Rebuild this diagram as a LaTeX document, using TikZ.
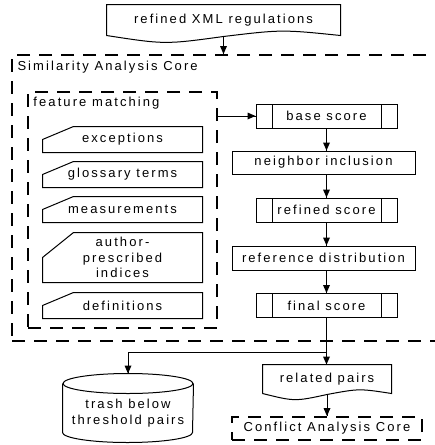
\documentclass[tikz,border=0pt]{standalone}
\usepackage{fontspec}
\usetikzlibrary{calc}
\newfontfamily\diafont{Liberation Sans}[LetterSpace=16]
\begin{document}
\begin{tikzpicture}[x=1pt,y=1pt,line width=1pt]
    \tikzstyle{every node}+=[inner sep=0pt, font=\diafont\fontsize{13}{15.5}\selectfont]
    \tikzstyle{dashbox}=[draw, line width=1.9pt, dash pattern=on 13pt off 9pt]
    \tikzstyle{procbox}=[draw, minimum width=183pt, minimum height=23pt]
    \tikzstyle{subproc}=[draw, minimum width=141pt, minimum height=24pt,
      path picture={\draw ([xshift=16pt]path picture bounding box.north west) -- ([xshift=16pt]path picture bounding box.south west);
                    \draw ([xshift=-16pt]path picture bounding box.north east) -- ([xshift=-16pt]path picture bounding box.south east);}]
    \tikzstyle{manin}=[minimum width=159pt, minimum height=25pt, align=center]
    \useasboundingbox (0,0) rectangle (435,-445);
    \node [minimum width=233pt, minimum height=30pt] (xml) at (223.5,-20) {refined XML regulations};
    \draw [black] (xml.south west) -- (xml.north west) -- (xml.north east) -- (xml.south east)
      .. controls ($(xml.south east)!0.5!(xml.south)+(0,6)$) .. ($(xml.south)+(0,-1)$)
      .. controls ($(xml.south west)!0.5!(xml.south)+(0,-9)$) .. (xml.south west);
    \node [dashbox, minimum width=438pt, minimum height=286pt] (simcore) at (231,-198) {};
    \node [anchor=west] (simtitle) at (17,-67) {Similarity Analysis Core};
    \node [dashbox, minimum width=189pt, minimum height=236pt] (featbox) at (122.5,-210) {};
    \node [anchor=west] (feattitle) at (33,-103) {feature matching};
    \node [manin] (exc) at (122.5,-139.5) {exceptions};
    \draw [black] (exc.south west) -- (exc.west) -- ([xshift=31pt]exc.north west) -- (exc.north east) -- (exc.south east) -- cycle;
    \node [manin] (gloss) at (122.5,-174.5) {glossary terms};
    \draw [black] (gloss.south west) -- (gloss.west) -- ([xshift=31pt]gloss.north west) -- (gloss.north east) -- (gloss.south east) -- cycle;
    \node [manin] (meas) at (122.5,-209.5) {measurements};
    \draw [black] (meas.south west) -- (meas.west) -- ([xshift=31pt]meas.north west) -- (meas.north east) -- (meas.south east) -- cycle;
    \node [manin, minimum height=49pt] (auth) at (122.5,-257.5) {author-\\prescribed\\indices};
    \draw [black] (auth.south west) -- (auth.west) -- ([xshift=31pt]auth.north west) -- (auth.north east) -- (auth.south east) -- cycle;
    \node [manin] (defs) at (122.5,-305.5) {definitions};
    \draw [black] (defs.south west) -- (defs.west) -- ([xshift=31pt]defs.north west) -- (defs.north east) -- (defs.south east) -- cycle;
    \node [subproc] (base) at (326.5,-116) {base score};
    \node [procbox] (neigh) at (323.5,-162.5) {neighbor inclusion};
    \node [subproc] (refined) at (326.5,-210) {refined score};
    \node [procbox, minimum height=24pt] (refdist) at (323.5,-258) {reference distribution};
    \node [subproc] (final) at (326.5,-305.5) {final score};
    \node [minimum width=130pt, minimum height=38pt, align=center] (trash) at (128,-413) {trash below\\threshold pairs};
    \draw [black] ([yshift=10pt]trash.north west) -- (trash.south west) arc [start angle=180, end angle=360, x radius=65, y radius=10] -- ([yshift=10pt]trash.north east);
    \draw [black] ([yshift=10pt]trash.north) ellipse [x radius=65, y radius=10];
    \node [minimum width=128pt, minimum height=28pt] (related) at (327,-379) {related pairs};
    \draw [black] (related.south west) -- (related.north west) -- (related.north east) -- (related.south east)
      .. controls ($(related.south east)!0.5!(related.south)+(0,5)$) .. ($(related.south)+(0,-1)$)
      .. controls ($(related.south west)!0.5!(related.south)+(0,-8)$) .. (related.south west);
    \node [dashbox, minimum width=190pt, minimum height=23pt] (conflict) at (327,-428.5) {Conflict Analysis Core};
    \coordinate (split) at ($(final.south)+(0,-34)$);
    \draw [black] ($(xml.south)+(0,-1)$) -- (xml.south |- simcore.north);
    \fill [black] (xml.south |- simcore.north) -- ++(-3.5,8) -- ++(7,0);
    \draw [black] (featbox.east |- base.west) -- (base.west);
    \fill [black] (base.west) -- ++(-8,3.5) -- ++(0,-7);
    \draw [black] (base.south) -- (base.south |- neigh.north);
    \fill [black] (base.south |- neigh.north) -- ++(-3.5,8) -- ++(7,0);
    \draw [black] (base.south |- neigh.south) -- (refined.north);
    \fill [black] (refined.north) -- ++(-3.5,8) -- ++(7,0);
    \draw [black] (refined.south) -- (refined.south |- refdist.north);
    \fill [black] (refined.south |- refdist.north) -- ++(-3.5,8) -- ++(7,0);
    \draw [black] (final.north |- refdist.south) -- (final.north);
    \fill [black] (final.north) -- ++(-3.5,8) -- ++(7,0);
    \draw [black] (final.south) -- (split) -- (related.north -| final.south);
    \fill [black] (related.north -| final.south) -- ++(-3.5,8) -- ++(7,0);
    \draw [black] (split) -| ([yshift=20pt]trash.north);
    \fill [black] ([yshift=20pt]trash.north) -- ++(-3.5,8) -- ++(7,0);
    \draw [black] ($(related.south)+(0,-1)$) -- (conflict.north);
    \fill [black] (conflict.north) -- ++(-3.5,8) -- ++(7,0);
\end{tikzpicture}
\end{document}
